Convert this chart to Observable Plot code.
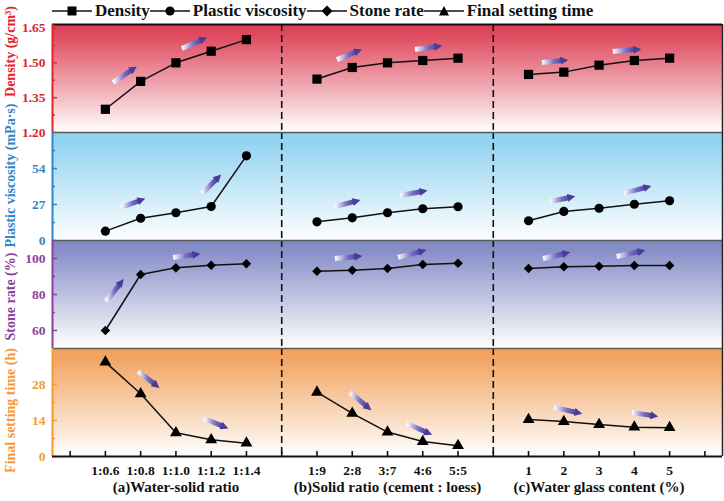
<!DOCTYPE html>
<html><head><meta charset="utf-8">
<script src="https://cdn.jsdelivr.net/npm/d3@7"></script>
<script src="https://cdn.jsdelivr.net/npm/@observablehq/plot@0.6"></script>
<style>
body{margin:0;background:#fff;overflow:hidden}
#chart{position:relative;width:724px;height:501px;font-family:"Liberation Serif",Tinos,"Times New Roman",Times,"Nimbus Roman","DejaVu Serif",serif}
.panel{position:absolute;left:0}
.panel svg{overflow:visible}
#legend{position:absolute;left:52px;top:1px;height:20px;display:flex;align-items:center;font-weight:bold;font-size:17px;white-space:nowrap;color:#111}
#legend span{margin:0 0 0 3px}
</style></head><body>
<svg width="0" height="0" style="position:absolute">
<defs>
<linearGradient id="bg0" x1="0" y1="0" x2="0" y2="1"><stop offset="0" stop-color="#dc4055"/><stop offset="0.1" stop-color="#df4a5e"/><stop offset="1" stop-color="#ffffff"/></linearGradient>
<linearGradient id="bg1" x1="0" y1="0" x2="0" y2="1"><stop offset="0" stop-color="#8dd2ef"/><stop offset="0.1" stop-color="#94d4f0"/><stop offset="1" stop-color="#ffffff"/></linearGradient>
<linearGradient id="bg2" x1="0" y1="0" x2="0" y2="1"><stop offset="0" stop-color="#7f87c4"/><stop offset="0.1" stop-color="#8990c8"/><stop offset="1" stop-color="#ffffff"/></linearGradient>
<linearGradient id="bg3" x1="0" y1="0" x2="0" y2="1"><stop offset="0" stop-color="#f1a05a"/><stop offset="0.1" stop-color="#f2a664"/><stop offset="1" stop-color="#ffffff"/></linearGradient>
<linearGradient id="arrowGrad" x1="0" y1="0" x2="1" y2="0"><stop offset="0" stop-color="#ffffff"/><stop offset="0.55" stop-color="#7d74c2"/><stop offset="1" stop-color="#483c9a"/></linearGradient>
<marker id="ah" viewBox="0 0 10 10" refX="3" refY="5" markerWidth="8" markerHeight="10" markerUnits="userSpaceOnUse" orient="auto"><path d="M0,0L10,5L0,10Z" fill="#483c9a"/></marker>
</defs></svg>
<div id="chart"><div id="legend"></div></div>
<script>
// ---------- categories ----------
const waterSolid = ["1:0.6", "1:0.8", "1:1.0", "1:1.2", "1:1.4"];
const solidRatio = ["1:9", "2:8", "3:7", "4:6", "5:5"];
const waterGlass = ["1", "2", "3", "4", "5"];
const groupTitles = ["(a)Water-solid ratio", "(b)Solid ratio (cement : loess)", "(c)Water glass content (%)"];
const seriesNames = ["Density", "Plastic viscosity", "Stone rate", "Final setting time"];

// ---------- series values ----------
const densityA = [1.30, 1.42, 1.50, 1.55, 1.60];
const densityB = [1.43, 1.48, 1.50, 1.51, 1.52];
const densityC = [1.45, 1.46, 1.49, 1.51, 1.52];
const viscosityA = [7.0, 16.7, 20.8, 25.5, 63.5];
const viscosityB = [14.0, 17.0, 20.8, 23.8, 25.3];
const viscosityC = [14.8, 21.8, 24.2, 27.2, 29.8];
const stoneA = [60.0, 91.1, 94.8, 96.3, 97.1];
const stoneB = [92.9, 93.5, 94.4, 96.7, 97.4];
const stoneC = [94.4, 95.4, 95.7, 96.1, 96.1];
const settingA = [36.7, 24.4, 9.2, 6.5, 5.2];
const settingB = [25.0, 16.8, 9.5, 5.8, 4.2];
const settingC = [14.4, 13.6, 12.4, 11.4, 11.2];

// ---------- trend arrows (x1, y1, x2, y2 in data units) ----------
const densityArrows = [[2.22,1.415,2.76,1.471],[4.17,1.562,4.74,1.600],[8.57,1.514,9.13,1.549],[10.78,1.557,11.40,1.570],[14.38,1.501,14.97,1.510],[16.39,1.549,17.04,1.557]];
const viscosityArrows = [[2.45,24.8,2.98,30.0],[4.74,35.3,5.17,46.5],[8.51,25.5,9.08,29.3],[10.35,33.8,10.98,36.8],[14.61,29.3,15.17,32.3],[16.70,35.3,17.33,39.8]];
const stoneArrows = [[2.02,76.1,2.42,86.1],[3.92,100.6,4.54,102.2],[8.51,100.0,9.13,101.1],[10.30,100.6,10.95,103.9],[14.41,100.0,15.03,102.8],[16.50,101.1,17.16,103.9]];
const settingArrows = [[2.93,33.1,3.41,28.0],[4.80,14.8,5.34,11.7],[8.94,24.9,9.42,19.4],[10.55,12.8,11.12,9.3],[14.72,19.1,15.37,17.1],[16.93,17.1,17.52,15.9]];

// ---------- scales / ticks ----------
const xDomain = [0.5, 19.5];
const xTicks = d3.range(1, 20);
const dividers = [7, 13];
const densityDomain = [1.20, 1.665];
const densityTicks = [1.20, 1.35, 1.50, 1.65];
const densityMinor = [1.275, 1.425, 1.575];
const viscosityDomain = [0, 81];
const viscosityTicks = [0, 27, 54];
const viscosityMinor = [13.5, 40.5, 67.5];
const stoneDomain = [50, 110];
const stoneTicks = [60, 80, 100];
const stoneMinor = [70, 90];
const settingDomain = [0, 42];
const settingTicks = [0, 14, 28];
const settingMinor = [7, 21, 35];

const categories = [waterSolid, solidRatio, waterGlass];
const groupCenters = categories.map((c, g) => 4 + 6 * g);
const tickLabel = new Map();
categories.forEach((cats, g) => cats.forEach((c, i) => tickLabel.set(2 + 6 * g + i, c)));

function rows(series) {
  const out = [];
  series.forEach((vals, g) => vals.forEach((v, i) => out.push({group: g, x: 2 + 6 * g + i, value: v})));
  return out;
}

const FONT = '"Liberation Serif",Tinos,"Times New Roman",Times,"Nimbus Roman","DejaVu Serif",serif';
const panels = [
  {title: "Density (g/cm³)", color: "#e3232c", domain: densityDomain, ticks: densityTicks, minor: densityMinor,
   fmt: d3.format(".2f"), series: [densityA, densityB, densityC], symbol: "square", r: 5.2, arrows: densityArrows, shift: -27},
  {title: "Plastic viscosity (mPa·s)", color: "#2f86c8", domain: viscosityDomain, ticks: viscosityTicks, minor: viscosityMinor,
   fmt: d3.format("d"), series: [viscosityA, viscosityB, viscosityC], symbol: "circle", r: 4.6, arrows: viscosityArrows, shift: -11},
  {title: "Stone rate (%)", color: "#8c3f9c", domain: stoneDomain, ticks: stoneTicks, minor: stoneMinor,
   fmt: d3.format("d"), series: [stoneA, stoneB, stoneC], symbol: "diamond2", r: 4.3, arrows: stoneArrows, shift: 2},
  {title: "Final setting time (h)", color: "#f39a33", domain: settingDomain, ticks: settingTicks, minor: settingMinor,
   fmt: d3.format("d"), series: [settingA, settingB, settingC], symbol: "triangle", r: 4.4, arrows: settingArrows, shift: 8}
];

const chart = document.getElementById("chart");
const PANEL_H = 108;
panels.forEach((p, k) => {
  const last = k === panels.length - 1;
  const data = rows(p.series);
  const marks = [
    Plot.frame({fill: `url(#bg${k})`, stroke: "none"}),
    Plot.ruleX(dividers, {stroke: "#111", strokeWidth: 1.6, strokeDasharray: "7,4"}),
    Plot.ruleY([p.domain[1]], {stroke: k === 0 ? "#111" : "#5a5a5a", strokeWidth: k === 0 ? 2 : 1.3}),
    Plot.ruleX([xDomain[1]], {stroke: "#222", strokeWidth: 1.5}),
    Plot.axisY({ticks: p.ticks, tickSize: 5, dx: 5, fill: "none", stroke: p.color, strokeWidth: 1.5, label: null}),
    Plot.axisY({ticks: p.minor, tickSize: 3, dx: 3, fill: "none", stroke: p.color, strokeWidth: 1.5, label: null}),
    Plot.axisY({ticks: p.ticks, tickSize: 0, tickPadding: 7, tickFormat: p.fmt, fill: p.color, fontSize: 13.5, fontWeight: "bold", label: null}),
    Plot.text([p.title], {text: d => d, frameAnchor: "left", textAnchor: "middle", rotate: -90, dx: -42, dy: p.shift, fill: p.color, fontSize: 14, fontWeight: "bold"}),
    Plot.link(p.arrows, {x1: d => d[0], y1: d => d[1], x2: d => d[2], y2: d => d[3], stroke: "url(#arrowGrad)", strokeWidth: 5}),
    Plot.line(data, {x: "x", y: "value", z: "group", stroke: "#111", strokeWidth: 1.5}),
    Plot.dot(data, {x: "x", y: "value", symbol: p.symbol, r: p.r, fill: "#000", stroke: "none"}),
    Plot.ruleX([xDomain[0]], {stroke: p.color, strokeWidth: 2})
  ];
  if (last) {
    marks.push(
      Plot.ruleY([p.domain[0]], {stroke: "#111", strokeWidth: 2}),
      Plot.axisX({ticks: xTicks, tickSize: 5, dy: -5, fill: "none", stroke: "#111", strokeWidth: 1.6, label: null}),
      Plot.axisX({ticks: [...tickLabel.keys()], tickSize: 0, tickPadding: 9, tickFormat: d => tickLabel.get(d), fill: "#111", fontSize: 13.5, fontWeight: "bold", label: null}),
      Plot.text(groupTitles, {x: (d, i) => groupCenters[i], text: d => d, frameAnchor: "bottom", dy: 35, fill: "#111", fontSize: 15, fontWeight: "bold"})
    );
  }
  const svg = Plot.plot({
    width: 724,
    height: PANEL_H + (last ? 45 : 0),
    marginLeft: 52, marginRight: 2, marginTop: 0, marginBottom: last ? 45 : 0,
    x: {domain: xDomain, axis: null},
    y: {domain: p.domain, axis: null},
    style: {overflow: "visible", fontFamily: FONT, background: "transparent"},
    marks
  });
  svg.querySelectorAll('g[aria-label="link"] path').forEach(el => el.setAttribute("marker-end", "url(#ah)"));
  const div = document.createElement("div");
  div.className = "panel";
  div.style.top = (24 + PANEL_H * k) + "px";
  div.appendChild(svg);
  chart.appendChild(div);
});

// ---------- legend ----------
const legendSymbols = [
  '<rect x="15.5" y="3.5" width="9" height="9" fill="#000"/>',
  '<circle cx="20" cy="8" r="4.6" fill="#000"/>',
  '<path d="M20,2.5L25.5,8L20,13.5L14.5,8Z" fill="#000"/>',
  '<path d="M20,3L25,12.5L15,12.5Z" fill="#000"/>'
];
const legend = document.getElementById("legend");
seriesNames.forEach((name, i) => {
  const s = document.createElementNS("http://www.w3.org/2000/svg", "svg");
  s.setAttribute("width", 40); s.setAttribute("height", 16);
  s.innerHTML = '<line x1="0" y1="8" x2="40" y2="8" stroke="#111" stroke-width="1.6"/>' + legendSymbols[i];
  legend.appendChild(s);
  const t = document.createElement("span");
  t.textContent = name;
  legend.appendChild(t);
});
</script>
</body></html>
